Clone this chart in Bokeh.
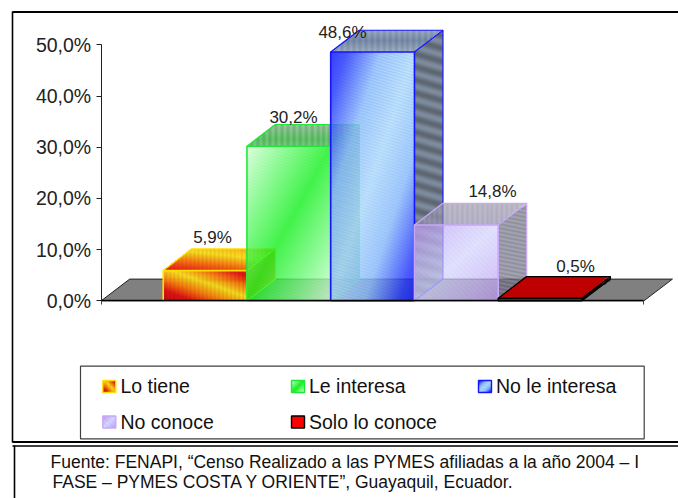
import numpy as np
from bokeh.plotting import figure
from bokeh.models import LinearAxis, FixedTicker, Range1d
from bokeh.core.properties import value
from bokeh.embed import file_html
from bokeh.resources import INLINE

categories = ["Lo tiene", "Le interesa", "No le interesa", "No conoce", "Solo lo conoce"]
values = [5.9, 30.2, 48.6, 14.8, 0.5]
value_labels = ["5,9%", "30,2%", "48,6%", "14,8%", "0,5%"]
y_ticks = [0, 10, 20, 30, 40, 50]
y_tick_labels = ["0,0%", "10,0%", "20,0%", "30,0%", "40,0%", "50,0%"]
footer = ["Fuente: FENAPI, “Censo Realizado a las PYMES afiliadas a la año 2004 – I",
          "FASE – PYMES COSTA Y ORIENTE”, Guayaquil, Ecuador."]

# layout: page pixels
W, H = 678, 498
PAGE = 0
BAR_PX, UNIT_PX = 83.75, 5.12      # pixels per category / per percent
BAR0_X, ZERO_Y = 162.7, 300.3      # page position of first bar's left edge, of value 0
GAP = 62.0 / BAR_PX
DX, DY = 28.5 / BAR_PX, 21.7 / UNIT_PX

def X(px): return (px - BAR0_X) / BAR_PX
def Y(py): return (ZERO_Y - py) / UNIT_PX

p = figure(width=W, height=H, output_backend="svg", toolbar_location=None,
           x_axis_location=None, y_axis_location=None,
           x_range=Range1d(X(PAGE), X(PAGE + W)), y_range=Range1d(Y(PAGE + H), Y(PAGE)),
           min_border=0, min_border_left=0, min_border_right=0, min_border_top=0, min_border_bottom=0,
           background_fill_color="white", border_fill_color="white", outline_line_color=None)
p.grid.visible = False

def ramp(t, stops):
    t = np.asarray(t, dtype=float)
    xs = [s[0] for s in stops]
    return np.stack([np.interp(t, xs, [s[1][c] for s in stops]) for c in range(3)], axis=-1)

def stripes(rgb, Xp, Yp, ax, ay, period, amp):
    f = 1 + amp * np.sin(2 * np.pi * (Xp * ax + Yp * ay) / period)
    return np.clip(rgb * f[..., None], 0, 255)

def face(o, a, b, shader, alpha):
    o, a, b = np.array(o, float), np.array(a, float), np.array(b, float)
    cs = np.array([o, o + a, o + b, o + a + b])
    x0, y0 = cs.min(axis=0)
    x1, y1 = cs.max(axis=0)
    nx = max(int(np.ceil((x1 - x0) * BAR_PX)), 1)
    ny = max(int(np.ceil((y1 - y0) * UNIT_PX)), 1)
    xs = x0 + (np.arange(nx) + .5) / nx * (x1 - x0)
    ys = y0 + (np.arange(ny) + .5) / ny * (y1 - y0)
    gx, gy = np.meshgrid(xs, ys)
    det = a[0] * b[1] - a[1] * b[0]
    u = ((gx - o[0]) * b[1] - (gy - o[1]) * b[0]) / det
    v = (a[0] * (gy - o[1]) - a[1] * (gx - o[0])) / det
    rgb = shader(u, v, gx * BAR_PX, gy * UNIT_PX)
    mask = (u >= 0) & (u <= 1) & (v >= 0) & (v <= 1)
    img = np.zeros((ny, nx, 4), dtype=np.uint8)
    img[..., :3] = np.clip(rgb, 0, 255).astype(np.uint8)
    img[..., 3] = (mask * alpha * 255).astype(np.uint8)
    p.image_rgba(image=[img.view(np.uint32).reshape(ny, nx)], x=x0, y=y0, dw=x1 - x0, dh=y1 - y0)

RED, ORA, YEL = (220, 15, 15), (240, 120, 10), (240, 215, 25)

def f1(u, v, Xp, Yp):
    return stripes(ramp(u + v, [(0, (190, 10, 15)), (.35, RED), (.7, ORA), (1.1, YEL), (1.45, ORA), (1.8, RED), (2, RED)]), Xp, Yp, 1, 0, 4, .05)
def t1(u, v, Xp, Yp):
    return stripes(ramp(v + .35 * u, [(0, RED), (.25, (235, 60, 15)), (.5, ORA), (.85, YEL), (1.05, (250, 190, 20)), (1.35, ORA)]), Xp, Yp, 1, 0, 4, .05)
def s1(u, v, Xp, Yp):
    return ramp(v, [(0, ORA), (1, ORA)])
def f2(u, v, Xp, Yp):
    return stripes(ramp(np.abs(u - v), [(0, (20, 240, 30)), (.55, (120, 250, 130)), (1, (215, 255, 215))]), Xp, Yp, .3, 1, 3, .02)
def t2(u, v, Xp, Yp):
    return stripes(ramp(np.abs(v - .3), [(0, (50, 175, 60)), (.7, (125, 170, 130))]), Xp, Yp, 1, 0, 6, .1)
def s2(u, v, Xp, Yp):
    return stripes(ramp(v, [(0, (90, 160, 130)), (1, (90, 160, 130))]), Xp, Yp, .3, 1, 7, .06)
def f3(u, v, Xp, Yp):
    return stripes(ramp(np.abs(u - v), [(0, (170, 215, 255)), (.4, (135, 185, 255)), (.8, (35, 55, 255)), (1, (10, 20, 250))]), Xp, Yp, .3, 1, 3, .05)
def t3(u, v, Xp, Yp):
    return stripes(ramp(np.abs(v - .5), [(0, (85, 110, 145)), (.5, (130, 150, 175))]), Xp, Yp, 1, 0, 6, .08)
def s3(u, v, Xp, Yp):
    return stripes(ramp(v, [(0, (78, 92, 110)), (1, (78, 92, 110))]), Xp, Yp, .3, 1, 13, .26)
def f4(u, v, Xp, Yp):
    return stripes(ramp(np.abs(u - v), [(0, (212, 212, 255)), (.5, (200, 185, 248)), (1, (190, 150, 240))]), Xp, Yp, 1, 1, 5, .02)
def t4(u, v, Xp, Yp):
    return stripes(ramp(v, [(0, (150, 145, 175)), (1, (160, 155, 175))]), Xp, Yp, 1, 0, 5, .06)
def s4(u, v, Xp, Yp):
    return stripes(ramp(v, [(0, (115, 115, 135)), (1, (115, 115, 135))]), Xp, Yp, .2, 1, 4, .16)
def solid(c):
    return lambda u, v, Xp, Yp: ramp(v, [(0, c), (1, c)])

faces = [
    (f1, t1, s1, "#ffe000", .97),
    (f2, t2, s2, "#20e838", .8),
    (f3, t3, s3, "#1414ff", .82),
    (f4, t4, s4, "#c8a8f8", .72),
    (solid((235, 0, 0)), solid((190, 0, 0)), solid((20, 0, 0)), "#000000", 1.0),
]

# floor
fx0, fx1 = -GAP, len(values) + GAP
p.patch([fx0, fx1, fx1 + DX, fx0 + DX], [0, 0, DY, DY], fill_color="#808080",
        line_color="#202020", line_width=1)

# bars
for i, v_ in enumerate(values):
    front, top, side, line, alpha = faces[i]
    face((i + 1, 0), (DX, DY), (0, v_), side, alpha)
    face((i, v_), (1, 0), (DX, DY), top, alpha)
    face((i, 0), (1, 0), (0, v_), front, alpha)
    p.line([i, i + DX, i + 1 + DX, i + 1 + DX, i + 1], [v_, v_ + DY, v_ + DY, DY, 0], line_color=line, line_width=1.2)
    p.line([i + 1, i + 1 + DX], [v_, v_ + DY], line_color=line, line_width=1.2)
    p.quad(left=[i], right=[i + 1], bottom=[0], top=[v_], fill_alpha=0, line_color=line, line_width=1.6)

# value labels
label_px = [212, 293, 342, 492, 575]
label_py = [237, 117, 32, 191, 266]
p.text([X(a) for a in label_px], [Y(b) for b in label_py], text=value_labels,
       text_font=value("Liberation Sans"), text_font_size="17px", text_color="#222222",
       text_align="center", text_baseline="middle")

# axes, fixed on the frame
ya = LinearAxis(fixed_location=-GAP, ticker=FixedTicker(ticks=y_ticks), bounds=(0, 50),
                major_label_overrides=dict(zip(y_ticks, y_tick_labels)),
                major_label_text_font="Liberation Sans", major_label_text_font_size="19.5px",
                major_label_text_color="#222222", major_label_standoff=5,
                major_tick_in=0, major_tick_out=5, minor_tick_line_color=None,
                axis_line_color="#202020", major_tick_line_color="#202020")
p.add_layout(ya, "left")
xa = LinearAxis(fixed_location=0, ticker=FixedTicker(ticks=[-GAP, len(values) + GAP]),
                bounds=(-GAP, len(values) + GAP), major_tick_in=0, major_tick_out=4,
                minor_tick_line_color=None, major_label_text_font_size="0px",
                major_label_text_color=None, axis_line_color="black", axis_line_width=1.4,
                major_tick_line_color="#404040")
p.add_layout(xa, "below")

# outer frame (page pixels)
def hline(py, x0, x1, w):
    p.line([X(x0), X(x1)], [Y(py), Y(py)], line_color="black", line_width=w)
def vline(px, y0, y1, w):
    p.line([X(px), X(px)], [Y(y0), Y(y1)], line_color="black", line_width=w)
hline(11.5, 12, 680, 2)
vline(12, 11, 442, 1.6)
vline(14, 445, 500, 1.6)
hline(441.5, 12, 680, 2)
hline(445.5, 12, 680, 1.5)

# legend
p.quad(left=[X(80)], right=[X(643.7)], top=[Y(365.7)], bottom=[Y(438.3)],
       fill_color="white", line_color="#404040", line_width=1.2)
sw_x = [102.3, 291, 478, 102.3, 291]
sw_y = [380, 380, 380, 415.5, 415.5]
tx_x = [120, 308.5, 495.5, 120, 308.5]
tx_y = [385.7, 385.7, 385.7, 421.7, 421.7]
sw_w, sw_h = 13, 12
for i in range(len(categories)):
    front, top, side, line, alpha = faces[i]
    x0, y1 = X(sw_x[i]), Y(sw_y[i])
    x1, y0 = X(sw_x[i] + sw_w), Y(sw_y[i] + sw_h)
    face((x0, y0), (x1 - x0, 0), (0, y1 - y0), (solid((255, 0, 0)) if i == 4 else front), 1.0)
    p.quad(left=[x0], right=[x1], top=[y1], bottom=[y0], fill_alpha=0, line_color=line, line_width=1.4)
p.text([X(a) for a in tx_x], [Y(b) for b in tx_y], text=categories,
       text_font=value("Liberation Sans"), text_font_size="19.5px", text_color="#111111",
       text_align="left", text_baseline="middle")

# source note
p.text([X(50), X(52)], [Y(461), Y(481.7)], text=footer,
       text_font=value("Liberation Sans"), text_font_size="17.5px", text_color="#111111",
       text_align="left", text_baseline="middle")

open("out.html", "w").write(file_html(p, INLINE))
